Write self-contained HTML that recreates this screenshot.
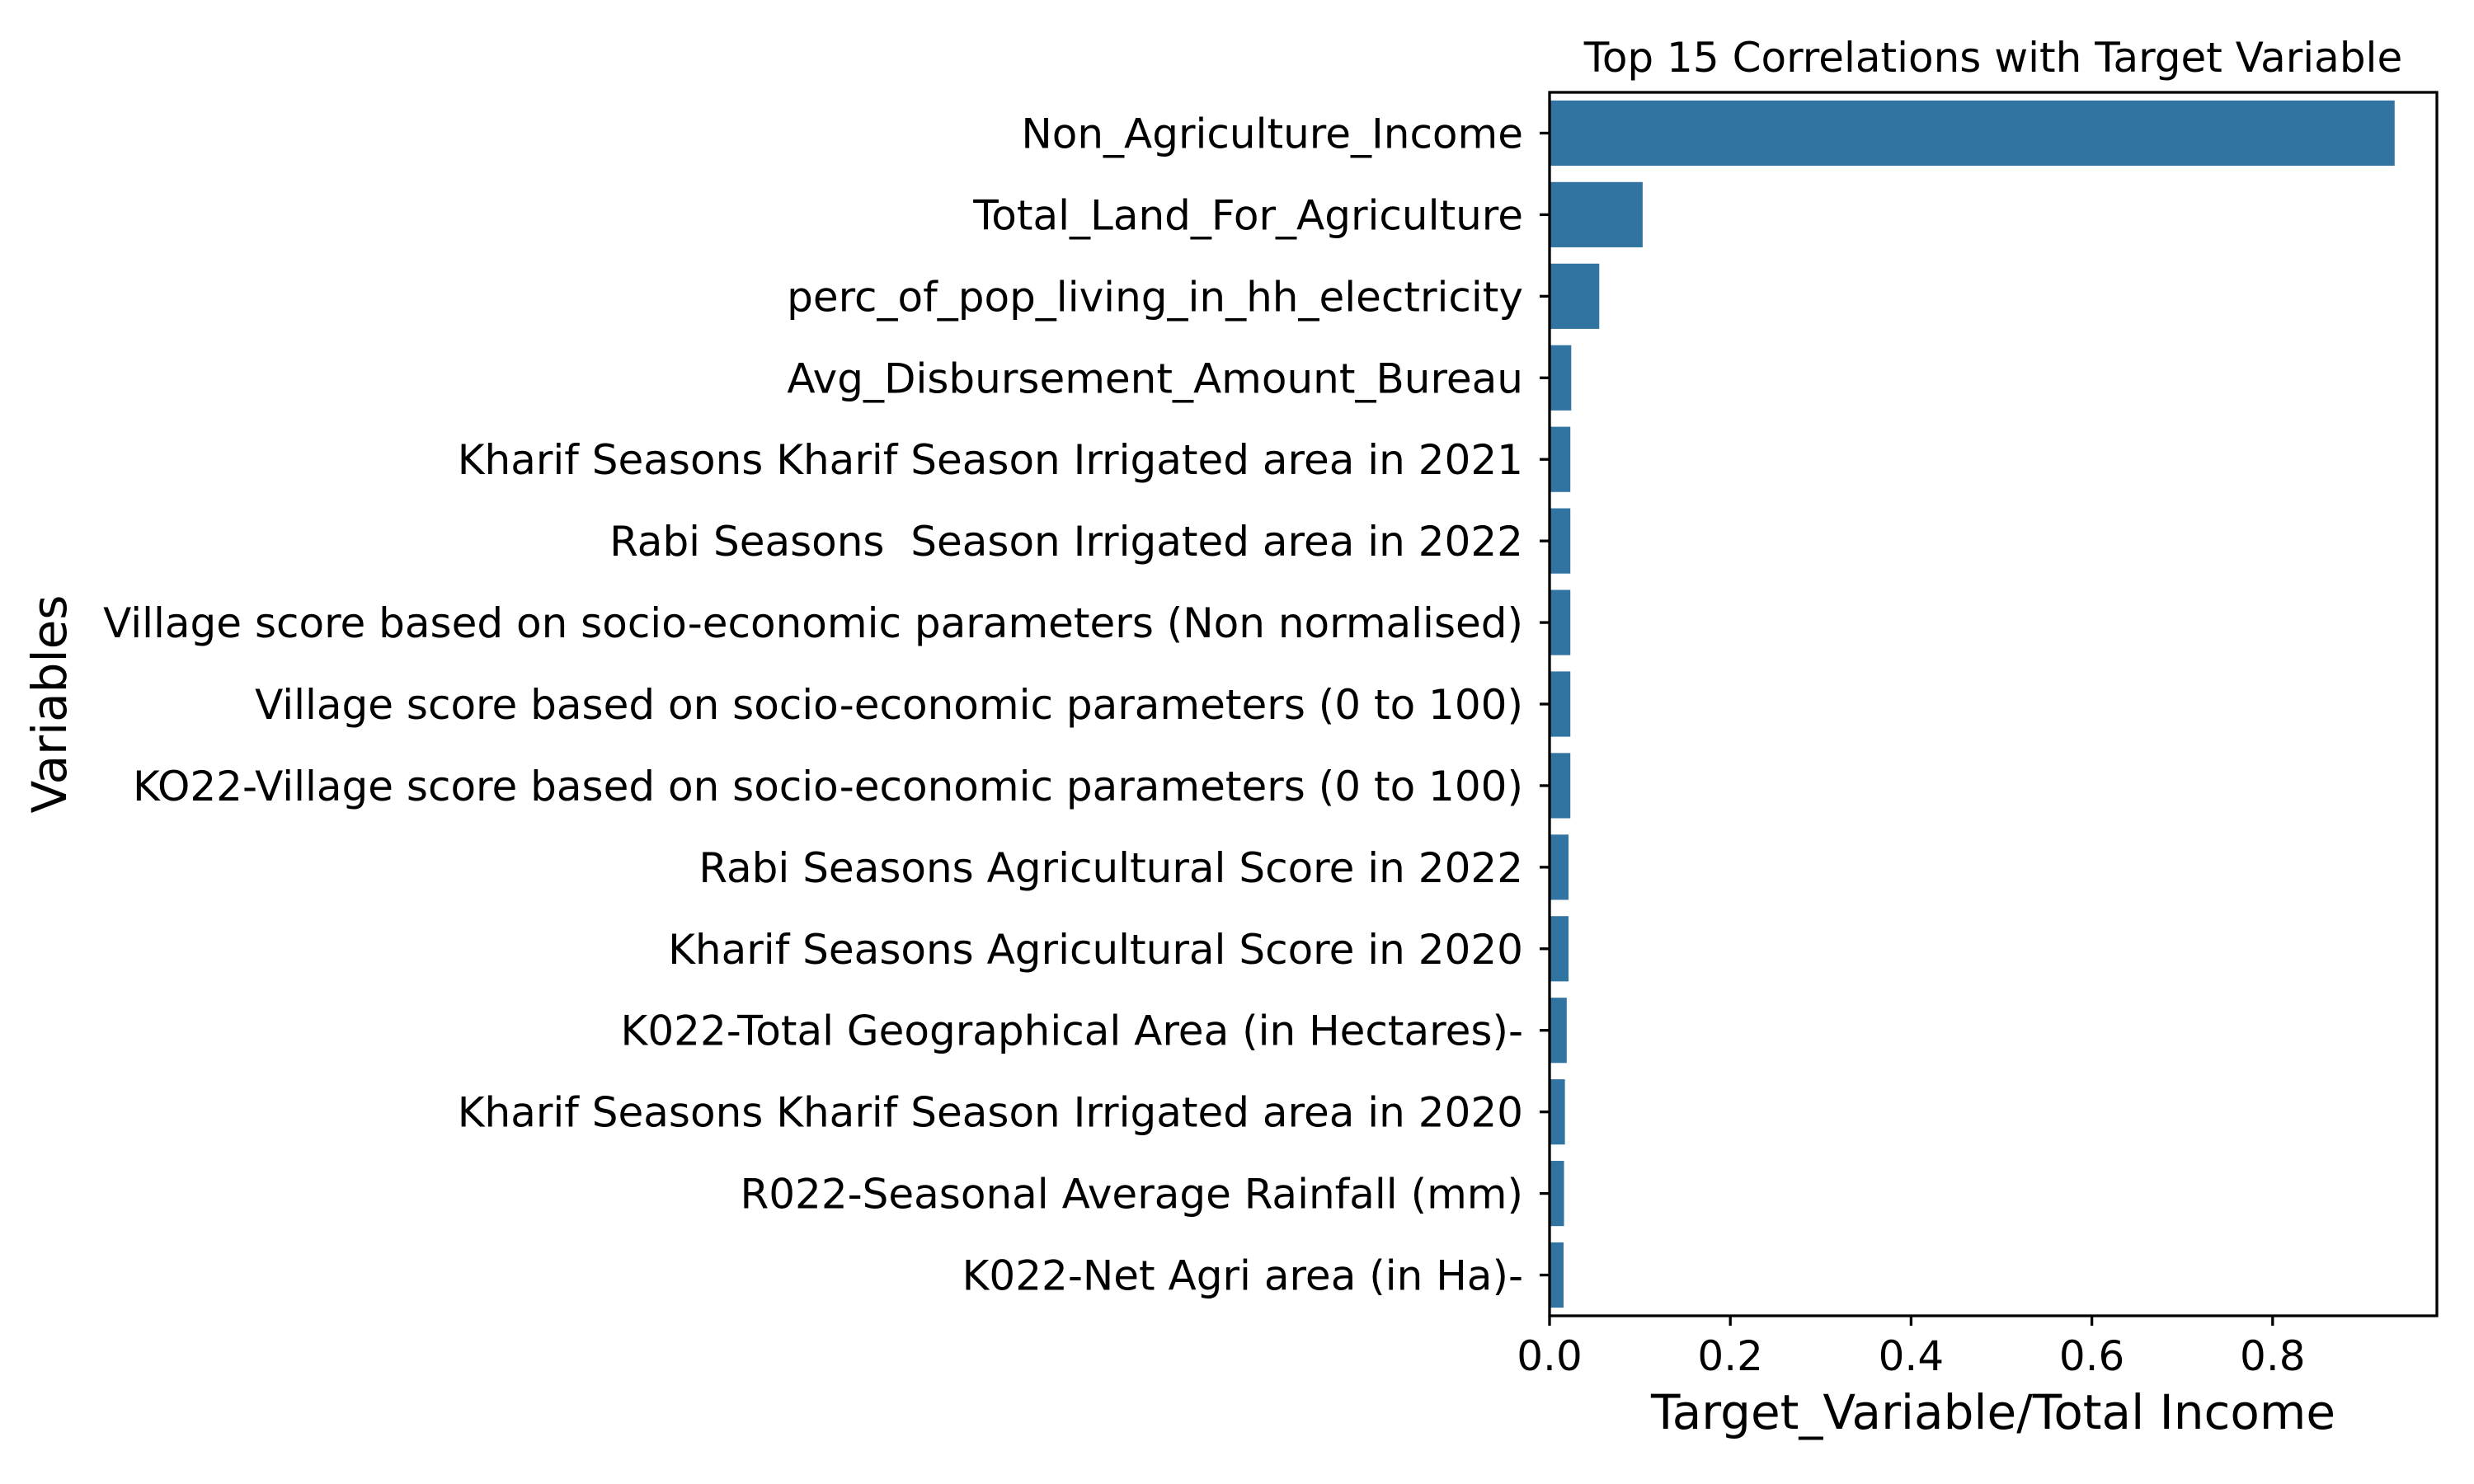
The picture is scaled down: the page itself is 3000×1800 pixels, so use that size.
<!DOCTYPE html>
<html><head><meta charset="utf-8"><style>
html,body{margin:0;padding:0;background:#fff;}
svg{display:block;font-family:"DejaVu Sans","Liberation Sans",sans-serif;}
#yticks text{white-space:pre;}
</style></head><body>
<svg id="chart" width="3000" height="1800" viewBox="0 0 3000 1800" xmlns="http://www.w3.org/2000/svg">
<rect width="3000" height="1800" fill="#fff"/>
<text x="2417" y="87" font-size="50" text-anchor="middle">Top 15 Correlations with Target Variable</text>
<text x="2417" y="1733" font-size="58" text-anchor="middle">Target_Variable/Total Income</text>
<text transform="translate(80,854) rotate(-90)" font-size="58" text-anchor="middle">Variables</text>
<g id="bars"></g>
<g id="yticks"></g>
<g id="xticks"></g>
<rect x="1879" y="112" width="1076" height="1484" fill="none" stroke="#000" stroke-width="3.3"/>
</svg>
<script>
const categories = [
"Non_Agriculture_Income",
"Total_Land_For_Agriculture",
"perc_of_pop_living_in_hh_electricity",
"Avg_Disbursement_Amount_Bureau",
"Kharif Seasons Kharif Season Irrigated area in 2021",
"Rabi Seasons  Season Irrigated area in 2022",
"Village score based on socio-economic parameters (Non normalised)",
"Village score based on socio-economic parameters (0 to 100)",
"KO22-Village score based on socio-economic parameters (0 to 100)",
"Rabi Seasons Agricultural Score in 2022",
"Kharif Seasons Agricultural Score in 2020",
"K022-Total Geographical Area (in Hectares)-",
"Kharif Seasons Kharif Season Irrigated area in 2020",
"R022-Seasonal Average Rainfall (mm)",
"K022-Net Agri area (in Ha)-"
];
const values = [0.935, 0.103, 0.055, 0.024, 0.023, 0.023, 0.023, 0.023, 0.023, 0.021, 0.021, 0.019, 0.017, 0.016, 0.0155];
const xTicks = [0, 0.2, 0.4, 0.6, 0.8];
const xTickLabels = ["0.0", "0.2", "0.4", "0.6", "0.8"];

const NS = "http://www.w3.org/2000/svg";
const plotLeft = 1879, plotRight = 2955, plotTop = 112, plotBottom = 1596;
const xMax = (plotRight - plotLeft) / 1096;
function xScale(v){ return plotLeft + v / xMax * (plotRight - plotLeft); }
const step = (plotBottom - plotTop) / categories.length;
function yCenter(i){ return plotTop + step * (i + 0.5); }
function mk(tag, attrs, parent){
  const e = document.createElementNS(NS, tag);
  for (const k in attrs) e.setAttribute(k, attrs[k]);
  parent.appendChild(e);
  return e;
}
const gB = document.getElementById("bars");
const gY = document.getElementById("yticks");
const gX = document.getElementById("xticks");
values.forEach((v, i) => {
  const h = step * 0.8;
  const r = mk("rect", {x: xScale(0), y: yCenter(i) - h/2, width: xScale(v) - xScale(0), height: h, fill: "#3274a1"}, gB);
  
  
});
categories.forEach((c, i) => {
  const y = yCenter(i);
  const t = mk("line", {x1: plotLeft - 12, x2: plotLeft, y1: y, y2: y, stroke: "#000", "stroke-width": 3.3}, gY);
  
  
  const tx = mk("text", {x: plotLeft - 32, y: y + 18, "font-size": 50, "text-anchor": "end"}, gY);
  tx.textContent = c;
  
  
});
xTicks.forEach((v, i) => {
  const x = xScale(v);
  const t = mk("line", {x1: x, x2: x, y1: plotBottom, y2: plotBottom + 12, stroke: "#000", "stroke-width": 3.3}, gX);
  
  
  const tx = mk("text", {x: x, y: 1662, "font-size": 50, "text-anchor": "middle"}, gX);
  tx.textContent = xTickLabels[i];
  
  
});
</script>
</body></html>
